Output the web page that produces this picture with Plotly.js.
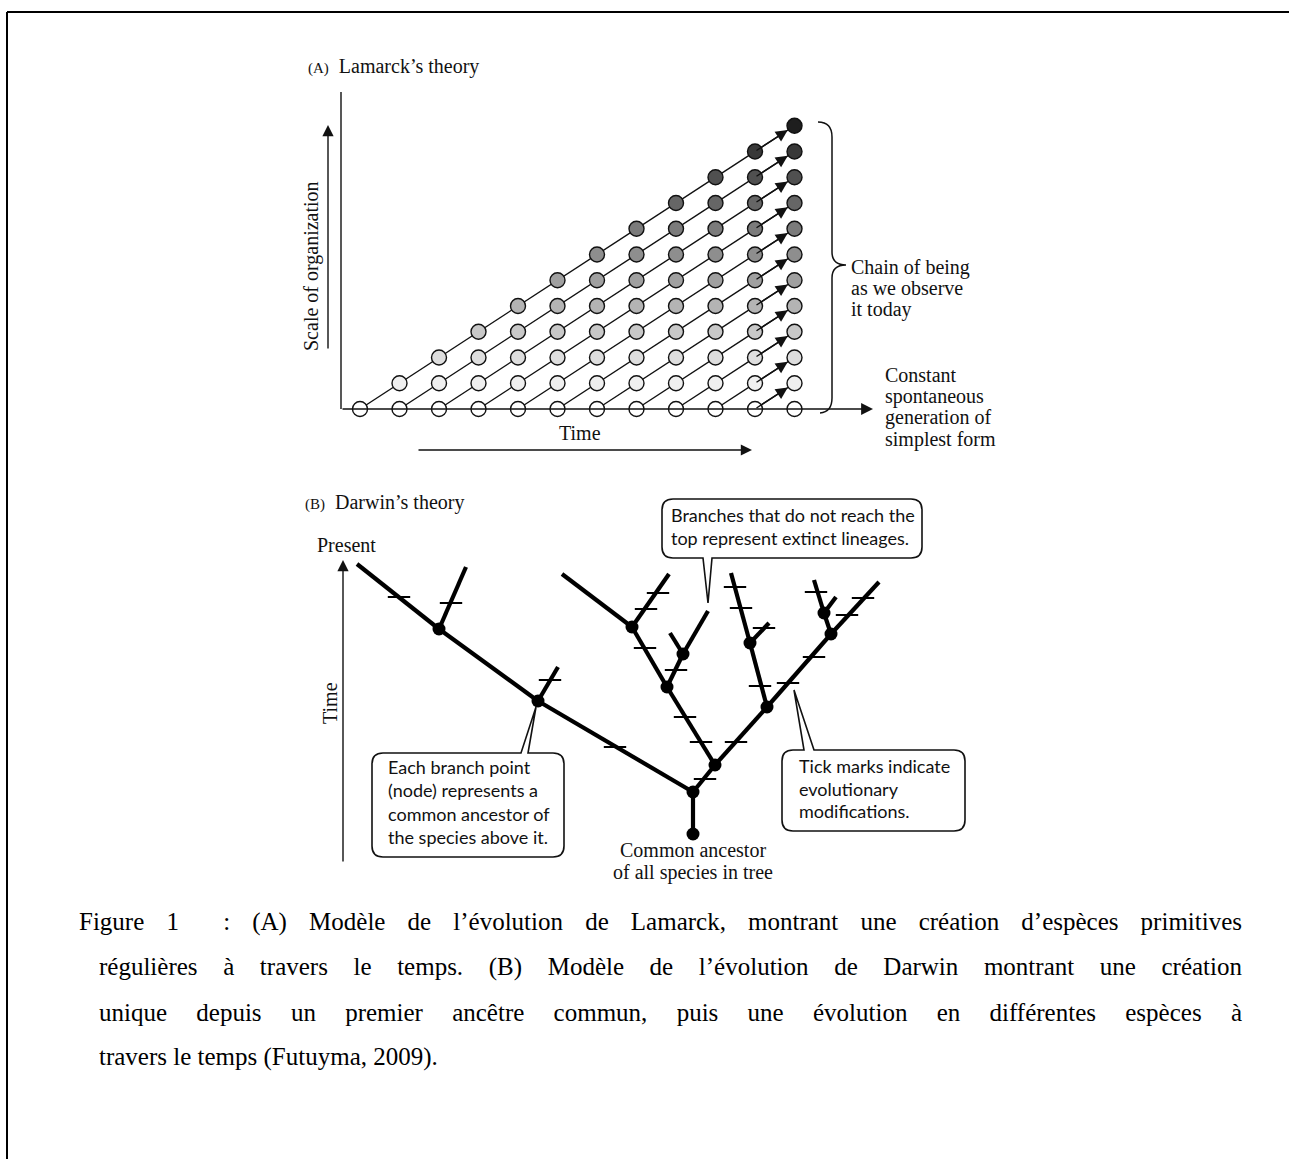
<!DOCTYPE html>
<html><head><meta charset="utf-8">
<script src="https://cdn.plot.ly/plotly-3.0.1.min.js"></script>
<style>html,body{margin:0;padding:0;background:#fff;} #chart{width:1289px;height:1159px;}</style>
</head><body><div id="chart"></div>
<script>
// ---------------- Panel A : Lamarck's theory ----------------
const lamarckSteps = [0,1,2,3,4,5,6,7,8,9,10,11];            // time steps
const lamarckFormsPerStep = [1,2,3,4,5,6,7,8,9,10,11,12];    // forms present at each step
const lamarckLevelShades = ['#ffffff','#efefef','#dedede','#c8c8c8','#b4b4b4','#a0a0a0',
                            '#8e8e8e','#7b7b7b','#666666','#505050','#383838','#1e1e1e'];

// ---------------- Panel B : Darwin's theory ----------------
// lateral position (u) and time (t) of branch points
const nodeNames = ['root','A','B','L1','L2','C','D','E','F','G','H','I'];
const nodeU     = [0,   0,  22, -155,-254, -26, -61, -10, 74, 57, 138, 131];
const nodeT     = [0,   42, 69,  133, 205, 147, 207, 180, 127,191, 200, 221];
// branch tips
const tipNames = ['tL0','tL2','tL1','tD1','tD2','tE1','tE2','tG1','tG2','tI1','tI2','tH'];
const tipU     = [-336, -227, -135, -131, -24,  -23,  15,   38,   76,  121,  143,  186];
const tipT     = [270,  267,  167,  260,  260,  201,  223,  261,  211, 254,  237,  252];
// branches
const edgeFrom = ['root','A', 'L1','L2', 'L2', 'L1', 'A','B','C','D', 'D', 'C','E', 'E', 'B','F','G', 'G', 'F','H','I', 'I', 'H'];
const edgeTo   = ['A',  'L1','L2','tL0','tL2','tL1','B','C','D','tD1','tD2','E','tE1','tE2','F','G','tG1','tG2','H','I','tI1','tI2','tH'];
// evolutionary modifications (tick marks)
const tickU = [-294,-242,-143,-78,-35,-47,-48,-17,-8,  8, 12, 42, 48, 71, 67, 43, 95,121,154,170,123];
const tickT = [ 237, 231, 154, 87,241,225,186,164,117, 92, 55,247,226,206,148, 92,151,177,219,236,242];

// ---------------- Caption ----------------
const captionLines = [
  'Figure 1 \u00a0: (A) Modèle de l’évolution de Lamarck, montrant une création d’espèces primitives',
  'régulières à travers le temps. (B) Modèle de l’évolution de Darwin montrant une création',
  'unique depuis un premier ancêtre commun, puis une évolution en différentes espèces à',
  'travers le temps (Futuyma, 2009).'
];
const captionJustify = [true,true,true,false];

// ================= build =================
const SERIF = 'Liberation Serif, Times New Roman, serif';
const SANS = 'Lato, Open Sans, sans-serif';

const circX=[],circY=[],circC=[];
lamarckSteps.forEach((s,i)=>{
  for(let j=0;j<lamarckFormsPerStep[i];j++){ circX.push(s); circY.push(j); circC.push(lamarckLevelShades[j]); }
});
const lastStep = lamarckSteps[lamarckSteps.length-1];
const linX=[],linY=[];
lamarckSteps.forEach(s=>{
  if(s<lastStep){ for(let m=s;m<=lastStep;m++){ linX.push(m); linY.push(m-s);} linX.push(null); linY.push(null); }
});

const pos = {};
nodeNames.forEach((n,i)=>pos[n]=[nodeU[i],nodeT[i]]);
tipNames.forEach((n,i)=>pos[n]=[tipU[i],tipT[i]]);
const brX=[],brY=[];
edgeFrom.forEach((f,i)=>{ const a=pos[f], b=pos[edgeTo[i]]; brX.push(a[0],b[0],null); brY.push(a[1],b[1],null); });

const traces = [
  {type:'scatter',mode:'lines',x:linX,y:linY,xaxis:'x',yaxis:'y',line:{color:'#111',width:1.4},hoverinfo:'skip',cliponaxis:false},
  {type:'scatter',mode:'markers',x:circX,y:circY,xaxis:'x',yaxis:'y',
   marker:{size:15,color:circC,line:{color:'#111',width:1.4}},hoverinfo:'skip',cliponaxis:false},
  {type:'scatter',mode:'lines',x:brX,y:brY,xaxis:'x2',yaxis:'y2',line:{color:'#000',width:4.2},hoverinfo:'skip',cliponaxis:false},
  {type:'scatter',mode:'markers',x:tickU,y:tickT,xaxis:'x2',yaxis:'y2',
   marker:{symbol:'line-ew',size:16,color:'#000',line:{color:'#000',width:2}},hoverinfo:'skip',cliponaxis:false},
  {type:'scatter',mode:'markers',x:nodeU,y:nodeT,xaxis:'x2',yaxis:'y2',
   marker:{size:13,color:'#000'},hoverinfo:'skip',cliponaxis:false}
];

// ---- layout helpers (pixel axes x3/y3 for decorations) ----
const ann = [];
function txt(text,x,y,opt){
  opt=opt||{};
  const xa = opt.xa||'left';
  ann.push(Object.assign({xref:'x3',yref:'y3',x:x,y:y,text:text,showarrow:false,
    xanchor:xa,yanchor:'middle',align:xa,
    font:{family:opt.family||SERIF,size:opt.size||20,color:'#111'}},opt.extra||{}));
}
function arrow3(x0,y0,x1,y1,w,sz){
  ann.push({xref:'x3',yref:'y3',axref:'x3',ayref:'y3',x:x1,y:y1,ax:x0,ay:y0,text:'',showarrow:true,
    arrowhead:2,arrowsize:sz||1.6,arrowwidth:w||1.4,arrowcolor:'#111'});
}
// lineage arrowheads (data axes)
lamarckSteps.forEach(s=>{
  if(s<lastStep){
    ann.push({xref:'x',yref:'y',axref:'x',ayref:'y',x:lastStep,y:lastStep-s,ax:lastStep-1,ay:lastStep-1-s,
      text:'',showarrow:true,arrowhead:2,arrowsize:1.7,arrowwidth:1.4,arrowcolor:'#111',standoff:8});
  }
});
// axes of panel A
arrow3(341,409,873,409,1.4,1.7);
arrow3(328,350,328,125,1.4,1.6);
arrow3(417,450,752,450,1.4,1.6);
// panel B time axis
arrow3(343,863,343,560,1.4,1.6);

// texts panel A
txt('<span style="font-size:15px">(A)</span>  Lamarck’s theory',306,66);
txt('Scale of organization',311,266,{xa:'center',extra:{textangle:-90}});
txt('Time',580,433,{xa:'center'});
['Chain of being','as we observe','it today'].forEach((s,i)=>txt(s,849,267+i*21));
['Constant','spontaneous','generation of','simplest form'].forEach((s,i)=>txt(s,883,375+i*21.4));
// texts panel B
txt('<span style="font-size:15px">(B)</span>  Darwin’s theory',303,502);
txt('Present',346,545,{xa:'center'});
txt('Time',330,703,{xa:'center',extra:{textangle:-90}});
txt('Common ancestor',693,850,{xa:'center'});
txt('of all species in tree',693,872,{xa:'center'});
['Branches that do not reach the','top represent extinct lineages.'].forEach((s,i)=>txt(s,669,515+i*23,{family:SANS,size:18}));
['Each branch point','(node) represents a','common ancestor of','the species above it.'].forEach((s,i)=>txt(s,386,767+i*23.3,{family:SANS,size:18}));
['Tick marks indicate','evolutionary','modifications.'].forEach((s,i)=>txt(s,797,766+i*22.5,{family:SANS,size:18}));
// caption
const captionStart = ann.length;
const capX=[77,97,97,97], capY=[922,967,1012,1057];
captionLines.forEach((s,i)=>txt(s,capX[i],capY[i],{size:25,extra:{font:{family:SERIF,size:25,color:'#000'}}}));

// callout boxes
function callout(x0,y0,x1,y1,r,side,b0,b1,tx,ty){
  let p = `M${x0+r},${y0} `;
  if(side==='top'){ p += `L${b0},${y0} L${tx},${ty} L${b1},${y0} `; }
  p += `L${x1-r},${y0} Q${x1},${y0} ${x1},${y0+r} L${x1},${y1-r} Q${x1},${y1} ${x1-r},${y1} `;
  if(side==='bottom'){ p += `L${b1},${y1} L${tx},${ty} L${b0},${y1} `; }
  p += `L${x0+r},${y1} Q${x0},${y1} ${x0},${y1-r} L${x0},${y0+r} Q${x0},${y0} ${x0+r},${y0} Z`;
  return {type:'path',xref:'x3',yref:'y3',path:p,line:{color:'#111',width:1.6},fillcolor:'rgba(255,255,255,0)',layer:'above'};
}
const shapes = [
  callout(662,499,922,558,11,'bottom',703,712,708,603),
  callout(372,753,564,857,11,'top',521,528,536,707),
  callout(782,750,965,831,11,'top',804,814,794,690),
  // brace
  {type:'path',xref:'x3',yref:'y3',path:'M818,122 Q832,122 832,137 L832,252 Q832,265 846,265 Q832,265 832,278 L832,398 Q832,412 820,413',
   line:{color:'#111',width:1.5}},
  // frame
  {type:'line',xref:'x3',yref:'y3',x0:7,y0:12,x1:1289,y1:12,line:{color:'#000',width:2}},
  {type:'line',xref:'x3',yref:'y3',x0:7,y0:12,x1:7,y1:1159,line:{color:'#000',width:2}},
  // vertical axis of panel A
  {type:'line',xref:'x3',yref:'y3',x0:341,y0:92,x1:341,y1:409,line:{color:'#111',width:1.4}}
];

const hid = {visible:false,showgrid:false,zeroline:false,fixedrange:true};
const layout = {
  width:1289,height:1159,margin:{l:0,r:0,t:0,b:0},paper_bgcolor:'#fff',plot_bgcolor:'rgba(0,0,0,0)',
  showlegend:false,
  xaxis:Object.assign({range:[-360/39.5,(1289-360)/39.5],domain:[0,1]},hid),
  yaxis:Object.assign({range:[(409-1159)/25.75,409/25.75],domain:[0,1]},hid),
  xaxis2:Object.assign({range:[-693,596],overlaying:'x',anchor:'y2'},hid),
  yaxis2:Object.assign({range:[-325,834],overlaying:'y',anchor:'x2'},hid),
  xaxis3:Object.assign({range:[0,1289],overlaying:'x',anchor:'y3'},hid),
  yaxis3:Object.assign({range:[1159,0],overlaying:'y',anchor:'x3'},hid),
  annotations:ann,shapes:shapes
};
// dummy trace to activate pixel axes
traces.push({type:'scatter',mode:'markers',x:[0],y:[0],xaxis:'x3',yaxis:'y3',marker:{opacity:0},hoverinfo:'skip'});

Plotly.newPlot('chart',traces,layout,{staticPlot:true}).then(gd=>{
  const targetRight = 1240;
  captionLines.forEach((s,i)=>{
    if(!captionJustify[i]) return;
    const t = gd.querySelector(`.annotation[data-index="${captionStart+i}"] text.annotation-text`);
    if(!t) return;
    const bb0 = t.getBBox();
    const w = t.getComputedTextLength();
    const n = (t.textContent.match(/[ \u00a0]/g)||[]).length;
    const target = targetRight - capX[i];
    if(n>0 && w<target){
      t.style.wordSpacing = ((target-w)/n)+'px';
      const bb1 = t.getBBox();
      const dx = bb0.x - bb1.x;
      if(Math.abs(dx)>0.5){ t.setAttribute('transform',`translate(${dx},0)`); }
    }
  });
});
</script></body></html>
